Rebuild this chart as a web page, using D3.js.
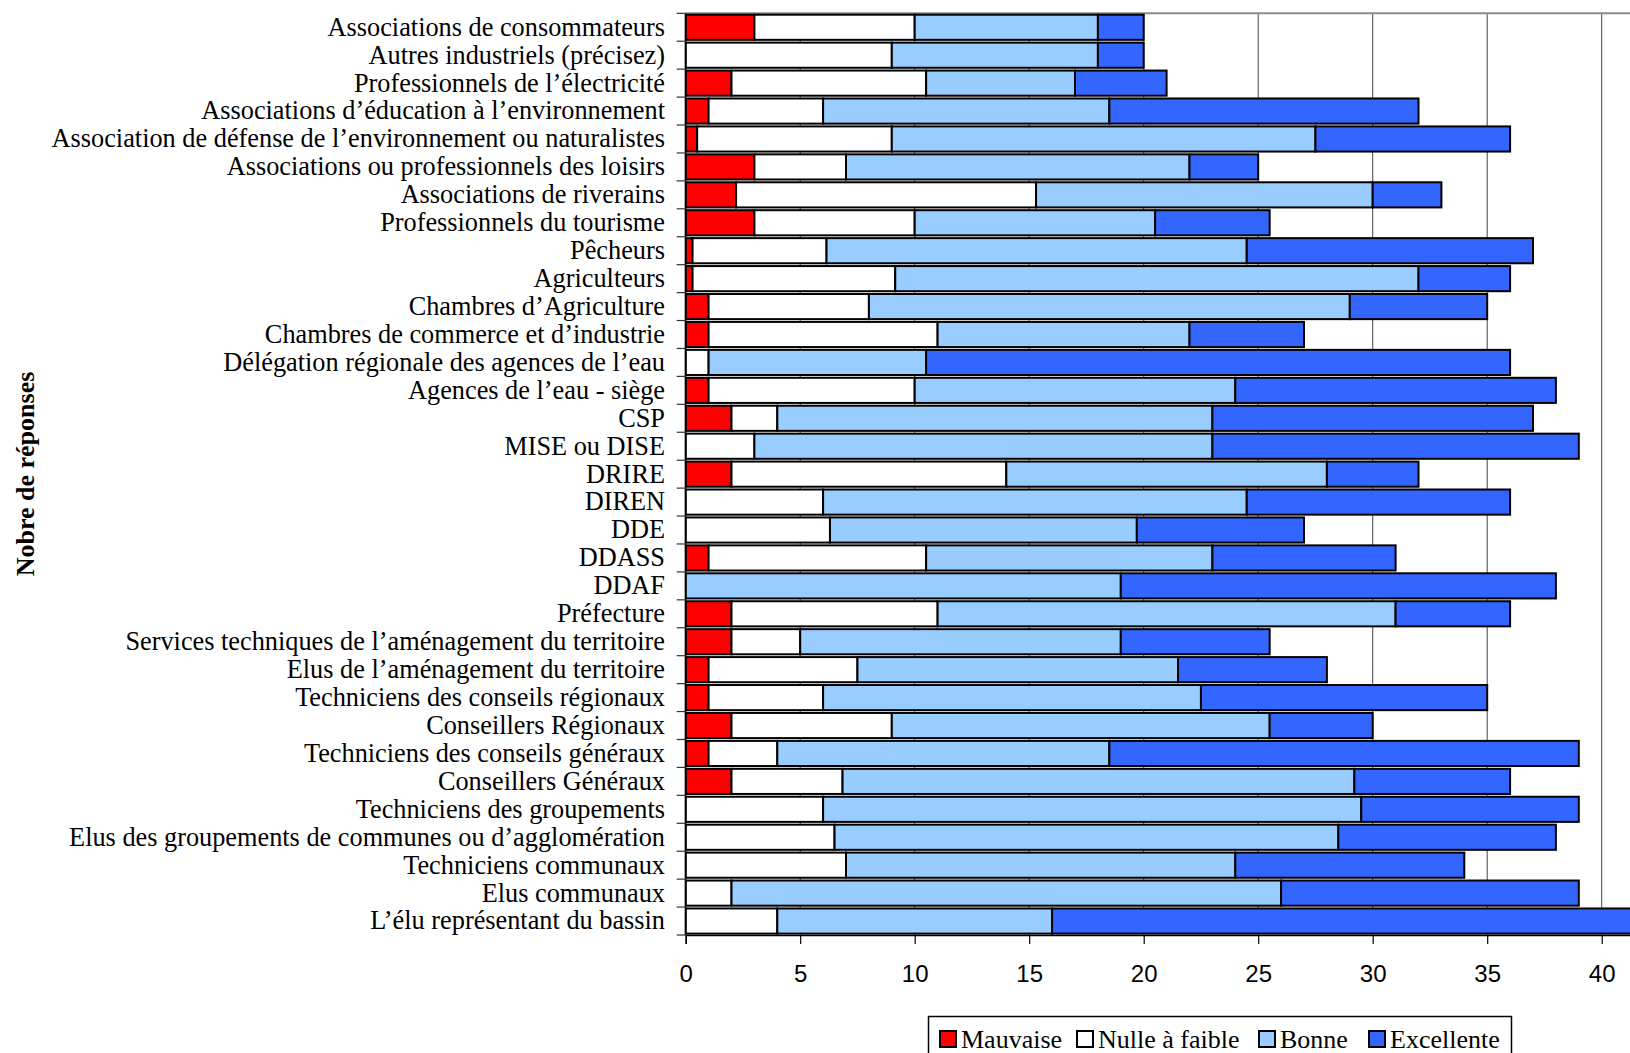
<!DOCTYPE html>
<html>
<head>
<meta charset="utf-8">
<script src="https://cdn.jsdelivr.net/npm/d3@7"></script>
<style>
  html, body { margin: 0; padding: 0; background: #fff; }
  svg { display: block; }
</style>
</head>
<body>
<svg id="chart" width="1630" height="1053"></svg>
<script>
// Respondent categories, listed top to bottom
const categories = [
  "Associations de consommateurs",
  "Autres industriels (précisez)",
  "Professionnels de l’électricité",
  "Associations d’éducation à l’environnement",
  "Association de défense de l’environnement ou naturalistes",
  "Associations ou professionnels des loisirs",
  "Associations de riverains",
  "Professionnels du tourisme",
  "Pêcheurs",
  "Agriculteurs",
  "Chambres d’Agriculture",
  "Chambres de commerce et d’industrie",
  "Délégation régionale des agences de l’eau",
  "Agences de l’eau - siège",
  "CSP",
  "MISE ou DISE",
  "DRIRE",
  "DIREN",
  "DDE",
  "DDASS",
  "DDAF",
  "Préfecture",
  "Services techniques de l’aménagement du territoire",
  "Elus de l’aménagement du territoire",
  "Techniciens des conseils régionaux",
  "Conseillers Régionaux",
  "Techniciens des conseils généraux",
  "Conseillers Généraux",
  "Techniciens des groupements",
  "Elus des groupements de communes ou d’agglomération",
  "Techniciens communaux",
  "Elus communaux",
  "L’élu représentant du bassin"
];

// Number of responses per rating, same order as categories
const mauvaise   = [3, 0, 2, 1, 0.5, 3, 2.2, 3, 0.3, 0.3, 1, 1, 0, 1, 2, 0, 2, 0, 0, 1, 0, 2, 2, 1, 1, 2, 1, 2, 0, 0, 0, 0, 0];
const nulle      = [7, 9, 8.5, 5, 8.5, 4, 13.1, 7, 5.85, 8.85, 7, 10, 1, 9, 2, 3, 12, 6, 6.3, 9.5, 0, 9, 3, 6.5, 5, 7, 3, 4.85, 6, 6.5, 7, 2, 4];
const bonne      = [8, 9, 6.5, 12.5, 18.5, 15, 14.7, 10.5, 18.35, 22.85, 21, 11, 9.5, 14, 19, 20, 14, 18.5, 13.4, 12.5, 19, 20, 14, 14, 16.5, 16.5, 14.5, 22.35, 23.5, 22, 17, 24, 12];
const excellente = [2, 2, 4, 13.5, 8.5, 3, 3, 5, 12.5, 4, 6, 5, 25.5, 14, 14, 16, 4, 11.5, 7.3, 8, 19, 5, 6.5, 6.5, 12.5, 4.5, 20.5, 6.8, 9.5, 9.5, 10, 13, 26];

const seriesNames  = ["Mauvaise", "Nulle à faible", "Bonne", "Excellente"];
const seriesColors = ["#FF0000", "#FFFFFF", "#99CCFF", "#3366FF"];
const xTicks = [0, 5, 10, 15, 20, 25, 30, 35, 40];

// Table for the stack layout
const keys = ["m", "n", "b", "e"];
const rows = categories.map((c, i) => ({
  cat: c, m: mauvaise[i], n: nulle[i], b: bonne[i], e: excellente[i]
}));

const svg = d3.select("#chart");
const plotLeft = 685.7, plotTop = 13.3, plotBottom = 935;
const unit = 22.9;

const x = d3.scaleLinear().domain([0, 45]).range([plotLeft, plotLeft + 45 * unit]);
const y = d3.scaleBand().domain(categories).range([plotTop, plotBottom])
  .paddingInner(0.1).paddingOuter(0.05);

const color = d3.scaleOrdinal().domain(keys).range(seriesColors);

// Vertical gridlines
svg.append("g").selectAll("line")
  .data(xTicks.filter(t => t > 0))
  .join("line")
  .attr("x1", d => x(d)).attr("x2", d => x(d))
  .attr("y1", plotTop).attr("y2", plotBottom)
  .attr("stroke", "#444").attr("stroke-width", 1);

// Plot-area top border
svg.append("line")
  .attr("x1", plotLeft).attr("x2", 1630)
  .attr("y1", plotTop).attr("y2", plotTop)
  .attr("stroke", "#8a8a8a").attr("stroke-width", 2);

// Stacked bars
const stacked = d3.stack().keys(keys)(rows);
svg.append("g").selectAll("g")
  .data(stacked)
  .join("g")
  .attr("fill", d => color(d.key))
  .selectAll("rect")
  .data(d => d.filter(s => s[1] - s[0] > 0))
  .join("rect")
  .attr("x", d => x(d[0]))
  .attr("y", d => y(d.data.cat))
  .attr("width", d => x(d[1]) - x(d[0]))
  .attr("height", y.bandwidth())
  .attr("stroke", "#000")
  .attr("stroke-width", 2);

// Bottom axis
const xAxis = svg.append("g").attr("transform", `translate(0,${plotBottom})`)
  .call(d3.axisBottom(x).tickValues(xTicks).tickSize(9).tickPadding(0).tickFormat(d3.format("d")));
xAxis.select(".domain").attr("stroke", "#000").attr("stroke-width", 1.5);
xAxis.selectAll(".tick line").attr("stroke", "#000").attr("stroke-width", 1.2);
xAxis.selectAll(".tick text")
  .attr("y", 47).attr("dy", 0)
  .attr("font-family", "'Liberation Sans', Arial, sans-serif")
  .attr("font-size", 24).attr("fill", "#000");

// Left axis line and category boundary ticks
svg.append("line")
  .attr("x1", plotLeft).attr("x2", plotLeft)
  .attr("y1", plotTop).attr("y2", plotBottom)
  .attr("stroke", "#000").attr("stroke-width", 1.5);
svg.append("g").selectAll("line")
  .data(d3.range(categories.length + 1))
  .join("line")
  .attr("x1", plotLeft - 9).attr("x2", plotLeft)
  .attr("y1", i => plotTop + i * y.step())
  .attr("y2", i => plotTop + i * y.step())
  .attr("stroke", "#333").attr("stroke-width", 1.2);

// Category labels
svg.append("g").selectAll("text")
  .data(categories)
  .join("text")
  .attr("x", 665)
  .attr("y", d => y(d) + y.bandwidth() / 2)
  .attr("dy", "0.32em")
  .attr("text-anchor", "end")
  .attr("font-family", "'Liberation Serif', 'Times New Roman', serif")
  .attr("font-size", 26.3)
  .attr("fill", "#000")
  .text(d => d);

// Axis title
svg.append("text")
  .attr("transform", "translate(34,474) rotate(-90)")
  .attr("text-anchor", "middle")
  .attr("font-family", "'Liberation Serif', 'Times New Roman', serif")
  .attr("font-weight", "bold")
  .attr("font-size", 26)
  .text("Nobre de réponses");

// Legend
const legend = svg.append("g");
legend.append("rect")
  .attr("x", 928.5).attr("y", 1016.5)
  .attr("width", 583).attr("height", 60)
  .attr("fill", "#fff").attr("stroke", "#000").attr("stroke-width", 1.5);
const legendTextX = [961, 1098, 1280, 1390];
const items = legend.selectAll("g.item")
  .data(seriesNames)
  .join("g").attr("class", "item");
items.append("rect")
  .attr("x", (d, i) => legendTextX[i] - 21)
  .attr("y", 1031)
  .attr("width", 16).attr("height", 16)
  .attr("fill", (d, i) => seriesColors[i])
  .attr("stroke", "#000").attr("stroke-width", 2);
items.append("text")
  .attr("x", (d, i) => legendTextX[i])
  .attr("y", 1048)
  .attr("font-family", "'Liberation Serif', 'Times New Roman', serif")
  .attr("font-size", 26)
  .attr("fill", "#000")
  .text(d => d);
</script>
</body>
</html>
